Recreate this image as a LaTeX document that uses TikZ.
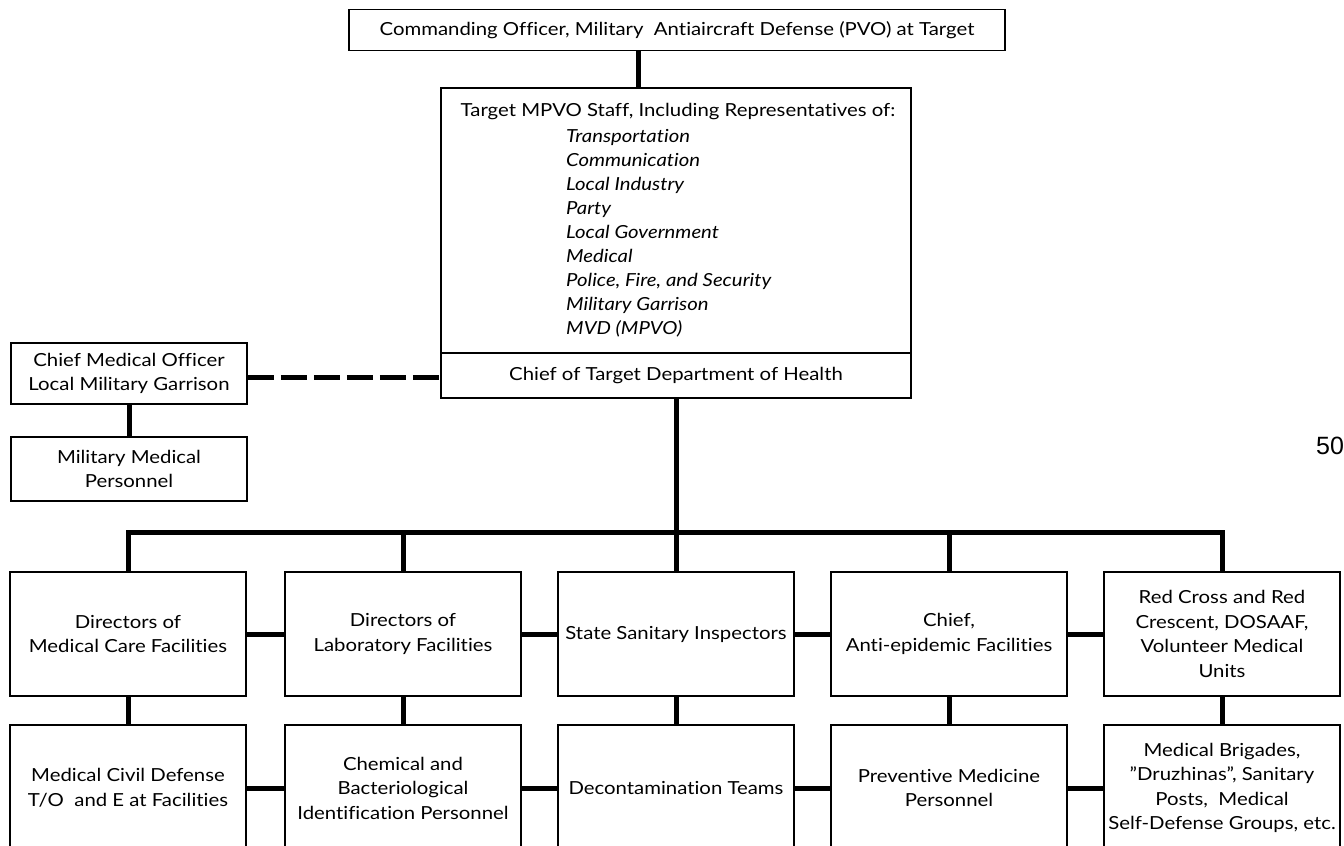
\documentclass[tikz,border=0pt]{standalone}
\usepackage{fontspec}
\setmainfont{Lato}[FakeStretch=1.13, Ligatures=NoCommon]
\newfontfamily\numfont{Liberation Sans}
\begin{document}
\begin{tikzpicture}[x=1pt,y=-1pt,
  box/.style={draw=black, line width=1.6pt, inner sep=0pt, align=center,
    font=\fontsize{18}{24.5}\selectfont},
  txt/.style={inner sep=0pt, font=\fontsize{18}{24}\selectfont},
  conn/.style={line width=5pt, black},
  dashconn/.style={line width=5pt, black, dash pattern=on 26pt off 7pt}]
\useasboundingbox[fill=white] (0,0) rectangle (1344,846);

% top chain
\node[box, minimum width=656pt, minimum height=41pt] (top) at (677,30)
  {Commanding Officer, Military\ \ Antiaircraft Defense (PVO) at Target};
\node[box, minimum width=470pt, minimum height=265pt] (mpvo) at (676,220.5) {};
\node[box, minimum width=470pt, minimum height=45pt] (health) at (676,375.5)
  {Chief of Target Department of Health};
\node[txt] (hdr) at (678,112) {Target MPVO Staff, Including Representatives of:};
\node[txt, anchor=west, align=left, font=\fontsize{18}{24}\selectfont\itshape] (lst) at (566,233)
  {Transportation\\Communication\\Local Industry\\Party\\Local Government\\Medical\\Police, Fire, and Security\\Military Garrison\\MVD (MPVO)};

% left side
\node[box, minimum width=236pt, minimum height=61pt] (cmo) at (129,373.5)
  {Chief Medical Officer\\Local Military Garrison};
\node[box, minimum width=236pt, minimum height=64pt] (mmp) at (129,469)
  {Military Medical\\Personnel};

% top row
\node[box, minimum width=236pt, minimum height=124pt] (b1) at (128,634) {Directors of\\Medical Care Facilities};
\node[box, minimum width=236pt, minimum height=124pt] (b2) at (403,634) {Directors of\\Laboratory Facilities};
\node[box, minimum width=236pt, minimum height=124pt] (b3) at (676,634) {State Sanitary Inspectors};
\node[box, minimum width=236pt, minimum height=124pt] (b4) at (949,634) {Chief,\\Anti-epidemic Facilities};
\node[box, minimum width=236pt, minimum height=124pt] (b5) at (1222,634) {Red Cross and Red\\Crescent, DOSAAF,\\Volunteer Medical\\Units};

% bottom row (cut by the page edge)
\node[box, minimum width=236pt, minimum height=126pt] (d1) at (128,788) {Medical Civil Defense\\T/O\ \ and E at Facilities};
\node[box, minimum width=236pt, minimum height=126pt] (d2) at (403,788) {Chemical and\\Bacteriological\\Identification Personnel};
\node[box, minimum width=236pt, minimum height=126pt] (d3) at (676,788) {Decontamination Teams};
\node[box, minimum width=236pt, minimum height=126pt] (d4) at (949,788) {Preventive Medicine\\Personnel};
\node[box, minimum width=236pt, minimum height=126pt] (d5) at (1222,788) {Medical Brigades,\\”Druzhinas”, Sanitary\\Posts,\ \ Medical\\Self-Defense Groups, etc.};

% page number
\node[inner sep=0pt, anchor=west, font=\numfont\fontsize{25}{25}\selectfont] (pg) at (1316,446) {50};

% connectors
\coordinate (cx) at (638,0);
\coordinate (busy) at (0,532);
\coordinate (dashy) at (0,377);
\draw[conn] (top.south -| cx) -- (mpvo.north -| cx);
\draw[conn] (health.south) -- (b3.north);
\draw[conn] (b1.north) -- (b1.north |- busy) -- (b5.north |- busy) -- (b5.north);
\draw[conn] (b2.north |- busy) -- (b2.north);
\draw[conn] (b4.north |- busy) -- (b4.north);
\draw[conn] (cmo.south) -- (mmp.north);
\draw[dashconn] (cmo.east |- dashy) -- (health.west |- dashy);
\draw[conn] (b1) -- (b2);
\draw[conn] (b2) -- (b3);
\draw[conn] (b3) -- (b4);
\draw[conn] (b4) -- (b5);
\draw[conn] (d1) -- (d2);
\draw[conn] (d2) -- (d3);
\draw[conn] (d3) -- (d4);
\draw[conn] (d4) -- (d5);
\draw[conn] (b1) -- (d1);
\draw[conn] (b2) -- (d2);
\draw[conn] (b3) -- (d3);
\draw[conn] (b4) -- (d4);
\draw[conn] (b5) -- (d5);
\end{tikzpicture}
\end{document}
